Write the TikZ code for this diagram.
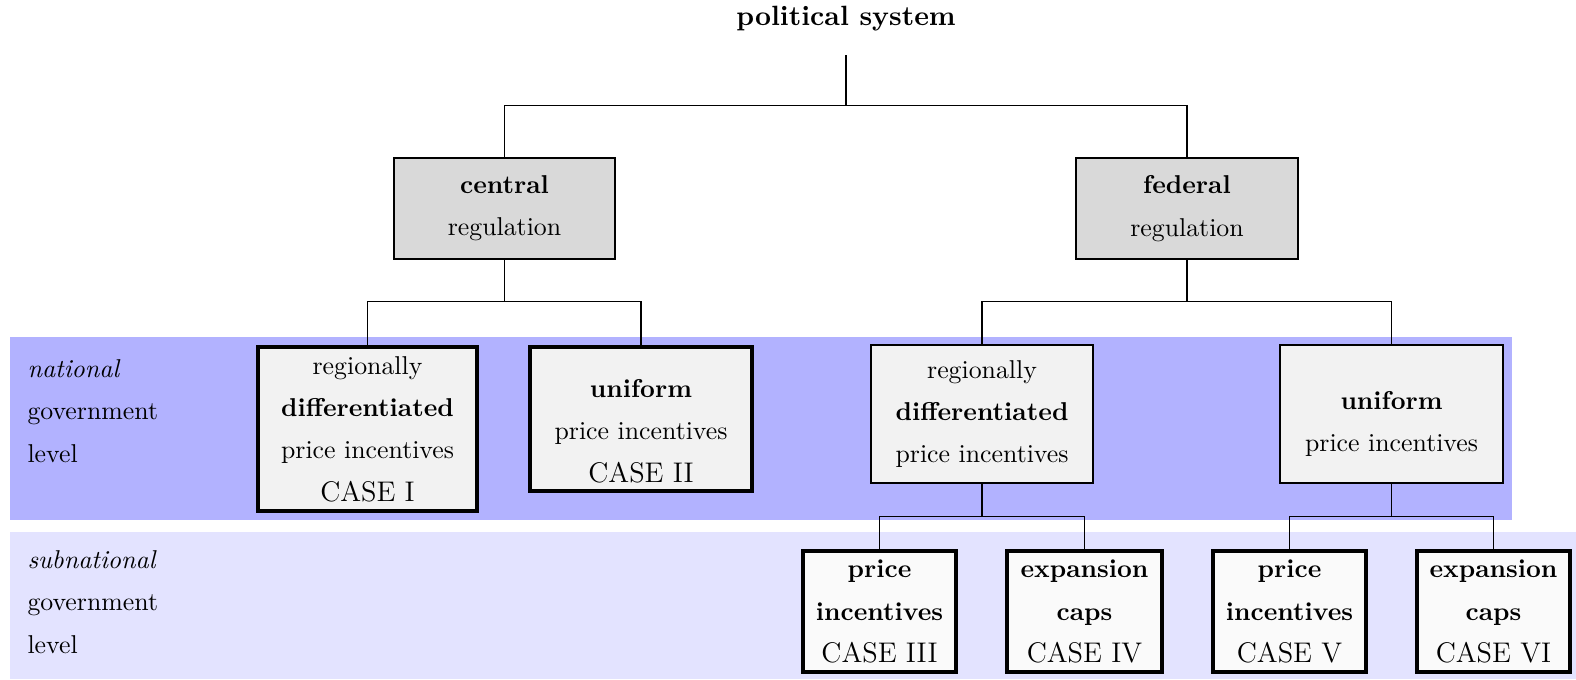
\documentclass[tikz,border=0pt]{standalone}
\newcommand{\casefont}{\fontsize{11}{16.4}\selectfont}
\tikzset{
  txt/.style={font=\fontsize{10}{16.4}\selectfont, align=center, inner sep=0pt},
  regbox/.style={draw, line width=0.5pt, fill=gray!30, txt},
  natbox/.style={draw, fill=gray!10, txt},
  subbox/.style={draw, line width=1.2pt, fill=gray!4, txt},
  conn/.style={draw, line width=0.5pt},
  lvl/.style={txt, align=left, anchor=west},
}
\begin{document}
\begin{tikzpicture}[x=0.3876pt, y=-0.3876pt]
\useasboundingbox (0,0) rectangle (1576,679);
% bands
\fill[blue!30] (10,337) rectangle (1512,520);
\fill[blue!11] (10,532) rectangle (1576,679);
% level labels
\node[lvl] (natl) at (27,411) {\textit{national}\\government\\level};
\node[lvl] (subl) at (27,602) {\textit{subnational}\\government\\level};
% title
\node[txt, font=\fontsize{10.8}{13}\selectfont\bfseries] (title) at (846,19) {political system};
\coordinate (top) at (846,55);
\coordinate (j0) at (846,105.5);
% regulation boxes
\node[regbox, minimum width=221*0.3876pt, minimum height=101*0.3876pt] (central) at (504.5,208.5) {\textbf{central}\\regulation};
\node[regbox, minimum width=222*0.3876pt, minimum height=101*0.3876pt] (federal) at (1187,208.5) {\textbf{federal}\\regulation};
% national boxes
\node[natbox, line width=1.2pt, minimum width=219*0.3876pt, minimum height=164*0.3876pt] (c1) at (367.5,429)
  {regionally\\\textbf{differentiated}\\price incentives\\{\casefont CASE I}};
\node[natbox, line width=1.2pt, minimum width=222*0.3876pt, minimum height=144*0.3876pt] (c2) at (641,419) {};
\node[txt] (c2t) at (641,431) {\textbf{uniform}\\price incentives\\{\casefont CASE II}};
\node[natbox, line width=0.5pt, minimum width=222*0.3876pt, minimum height=138*0.3876pt] (f1) at (982,414)
  {regionally\\\textbf{differentiated}\\price incentives};
\node[natbox, line width=0.5pt, minimum width=223*0.3876pt, minimum height=138*0.3876pt] (f2) at (1391.5,414) {};
\node[txt] (f2t) at (1391.5,424) {\textbf{uniform}\\price incentives};
% subnational boxes
\node[subbox, minimum width=153*0.3876pt, minimum height=121*0.3876pt] (c3) at (879.5,611.5) {\textbf{price}\\\textbf{incentives}\\{\casefont CASE III}};
\node[subbox, minimum width=155*0.3876pt, minimum height=121*0.3876pt] (c4) at (1084.5,611.5) {\textbf{expansion}\\\textbf{caps}\\{\casefont CASE IV}};
\node[subbox, minimum width=153*0.3876pt, minimum height=121*0.3876pt] (c5) at (1289.5,611.5) {\textbf{price}\\\textbf{incentives}\\{\casefont CASE V}};
\node[subbox, minimum width=153*0.3876pt, minimum height=121*0.3876pt] (c6) at (1493.5,611.5) {\textbf{expansion}\\\textbf{caps}\\{\casefont CASE VI}};
% junctions
\coordinate (j1) at (504.5,301.5);
\coordinate (j2) at (1187,301.5);
\coordinate (j3) at (982,516.5);
\coordinate (j4) at (1391.5,516.5);
% connectors
\path[conn] (top) -- (j0);
\path[conn] (central.north) |- (j0) -| (federal.north);
\path[conn] (central.south) -- (j1);
\path[conn] (c1.north) |- (j1) -| (c2.north);
\path[conn] (federal.south) -- (j2);
\path[conn] (f1.north) |- (j2) -| (f2.north);
\path[conn] (f1.south) -- (j3);
\path[conn] (c3.north) |- (j3) -| (c4.north);
\path[conn] (f2.south) -- (j4);
\path[conn] (c5.north) |- (j4) -| (c6.north);
\end{tikzpicture}
\end{document}
